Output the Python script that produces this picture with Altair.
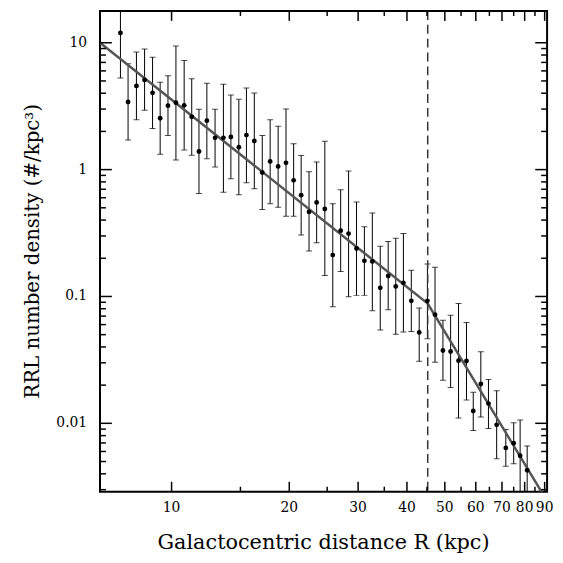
import altair as alt
import pandas as pd

# ---- data ----
R = [7.40, 7.74, 8.13, 8.53, 8.94, 9.35, 9.79, 10.26, 10.77, 11.26,
     11.75, 12.31, 12.92, 13.57, 14.18, 14.86, 15.54, 16.28, 17.06, 17.87,
     18.73, 19.62, 20.52, 21.45, 22.47, 23.50, 24.66, 25.84, 27.07, 28.36,
     29.72, 31.13, 32.62, 34.18, 35.81, 37.45, 39.17, 41.04, 42.99, 45.12,
     47.19, 49.44, 51.73, 54.20, 56.80, 59.10, 61.80, 64.64, 67.84, 71.6,
     75.0, 77.9, 81.2]
density = [11.96, 3.41, 4.57, 5.09, 4.03, 2.54, 3.19, 3.37, 3.21, 2.61,
           1.39, 2.43, 1.78, 1.78, 1.81, 1.50, 1.87, 1.68, 0.949, 1.16,
           1.06, 1.13, 0.823, 0.629, 0.464, 0.551, 0.489, 0.212, 0.330, 0.313,
           0.239, 0.191, 0.189, 0.117, 0.145, 0.120, 0.128, 0.0924, 0.0521, 0.0924,
           0.0719, 0.0375, 0.0368, 0.0312, 0.0310, 0.0125, 0.0204, 0.0143, 0.00973, 0.00640,
           0.00696, 0.00555, 0.00427]
err_hi = [27, 6.82, 8.45, 8.92, 7.68, 4.88, 5.50, 9.41, 7.24, 5.21,
          2.99, 4.80, 2.99, 4.71, 3.87, 3.58, 4.39, 4.01, 1.86, 2.47,
          2.20, 3.01, 1.60, 1.29, 0.961, 1.15, 1.67, 0.539, 0.693, 0.973,
          0.555, 0.354, 0.455, 0.249, 0.271, 0.288, 0.313, 0.161, 0.0811, 0.180,
          0.170, 0.0650, 0.0711, 0.0882, 0.0623, 0.0176, 0.0367, 0.0222, 0.0181, 0.00895,
          0.0101, 0.0106, 0.00664]
err_lo = [5.27, 1.71, 2.47, 2.94, 2.11, 1.32, 1.86, 1.19, 1.43, 1.30,
          0.648, 1.22, 1.05, 0.663, 0.848, 0.633, 0.789, 0.705, 0.484, 0.539,
          0.504, 0.429, 0.429, 0.305, 0.228, 0.265, 0.146, 0.0830, 0.157, 0.0993,
          0.102, 0.102, 0.0773, 0.0544, 0.0787, 0.0503, 0.0525, 0.0530, 0.0308, 0.0465,
          0.0303, 0.0219, 0.0192, 0.0110, 0.0153, 0.00879, 0.0112, 0.00911, 0.00526, 0.00459,
          0.00480, 0.0028, 0.0027]

fit_R = [6.56, 45.2, 91.3]
fit_density = [10.0, 0.088, 0.00244]
break_R = [45.2]

x_major = [10, 20, 30, 40, 50, 60, 70, 80, 90]
x_labels = ["10", "20", "30", "40", "50", "60", "70", "80", "90"]
x_minor = [15, 25, 35, 45, 55, 65, 75, 85]
y_major = [0.01, 0.1, 1, 10]
y_labels = ["0.01", "0.1", "1", "10"]
y_minor = [0.003, 0.004, 0.005, 0.006, 0.007, 0.008, 0.009,
           0.02, 0.03, 0.04, 0.05, 0.06, 0.07, 0.08, 0.09,
           0.2, 0.3, 0.4, 0.5, 0.6, 0.7, 0.8, 0.9,
           2, 3, 4, 5, 6, 7, 8, 9]
x_title = ["Galactocentric distance R (kpc)"]
y_title = ["RRL number density (#/kpc³)"]

FONT = "DejaVu Serif"
W, H = 452, 486

pts = pd.DataFrame({"R": R, "rho": density, "lo": err_lo, "hi": err_hi})
fit = pd.DataFrame({"R": fit_R, "rho": fit_density})
brk = pd.DataFrame({"R": break_R})

xs = alt.Scale(type="log", domain=[6.56, 91.3], nice=False)
ys = alt.Scale(type="log", domain=[0.00289, 17.8], nice=False)


def x_ticks(values, a, b):
    d = pd.DataFrame({"v": values})
    return alt.Chart(d).mark_rule(color="black", strokeWidth=1.5).encode(
        x=alt.X("v:Q", scale=xs, axis=None),
        y=alt.value(a), y2=alt.value(b))


def y_ticks(values, a, b):
    d = pd.DataFrame({"v": values})
    return alt.Chart(d).mark_rule(color="black", strokeWidth=1.5).encode(
        y=alt.Y("v:Q", scale=ys, axis=None),
        x=alt.value(a), x2=alt.value(b))


ticks = [
    x_ticks(x_major, H, H - 10), x_ticks(x_major, 0, 10),
    x_ticks(x_minor, H, H - 5), x_ticks(x_minor, 0, 5),
    y_ticks(y_major, 0, 12), y_ticks(y_major, W, W - 12),
    y_ticks(y_minor, 0, 6), y_ticks(y_minor, W, W - 6),
]

xlab = alt.Chart(pd.DataFrame({"v": x_major, "t": x_labels})).mark_text(
    font=FONT, fontSize=14, color="black", align="center", baseline="top"
).encode(x=alt.X("v:Q", scale=xs, axis=None), y=alt.value(H + 10), text="t:N")

ylab = alt.Chart(pd.DataFrame({"v": y_major, "t": y_labels})).mark_text(
    font=FONT, fontSize=14, color="black", align="right", baseline="middle"
).encode(y=alt.Y("v:Q", scale=ys, axis=None), x=alt.value(-13), text="t:N")

xtit = alt.Chart(pd.DataFrame({"t": x_title})).mark_text(
    font=FONT, fontSize=21, color="black", align="center", baseline="alphabetic"
).encode(x=alt.value(W / 2), y=alt.value(H + 58), text="t:N")

ytit = alt.Chart(pd.DataFrame({"t": y_title})).mark_text(
    font=FONT, fontSize=20, color="black", align="center", baseline="middle",
    angle=270
).encode(x=alt.value(-68), y=alt.value(H / 2), text="t:N")

bars = alt.Chart(pts).mark_rule(color="black", strokeWidth=1, clip=True).encode(
    x=alt.X("R:Q", scale=xs, axis=None),
    y=alt.Y("lo:Q", scale=ys, axis=None),
    y2="hi:Q",
)
caps_hi = alt.Chart(pts).mark_tick(orient="horizontal", size=6, thickness=1,
                                    color="black", clip=True).encode(
    x=alt.X("R:Q", scale=xs, axis=None),
    y=alt.Y("hi:Q", scale=ys, axis=None),
)
caps_lo = alt.Chart(pts).mark_tick(orient="horizontal", size=6, thickness=1,
                                    color="black", clip=True).encode(
    x=alt.X("R:Q", scale=xs, axis=None),
    y=alt.Y("lo:Q", scale=ys, axis=None),
)
dots = alt.Chart(pts).mark_circle(size=24, color="black", opacity=1).encode(
    x=alt.X("R:Q", scale=xs, axis=None),
    y=alt.Y("rho:Q", scale=ys, axis=None),
)
line = alt.Chart(fit).mark_line(color="#555555", strokeWidth=2.5, clip=True).encode(
    x=alt.X("R:Q", scale=xs, axis=None),
    y=alt.Y("rho:Q", scale=ys, axis=None),
)
dash = alt.Chart(brk).mark_rule(color="#333333", strokeWidth=1.5,
                                strokeDash=[9, 5]).encode(
    x=alt.X("R:Q", scale=xs, axis=None),
)

chart = alt.layer(xlab, ylab, xtit, ytit, bars, caps_hi, caps_lo, line, dash,
                  dots, *ticks).properties(
    width=W, height=H,
    autosize=alt.AutoSizeParams(type="none"),
    padding={"left": 93, "top": 0, "right": 8, "bottom": 64},
    background="white",
).configure_view(
    stroke="black", strokeWidth=2
)

chart.save("out.html", embed_options={"renderer": "svg", "actions": False})
